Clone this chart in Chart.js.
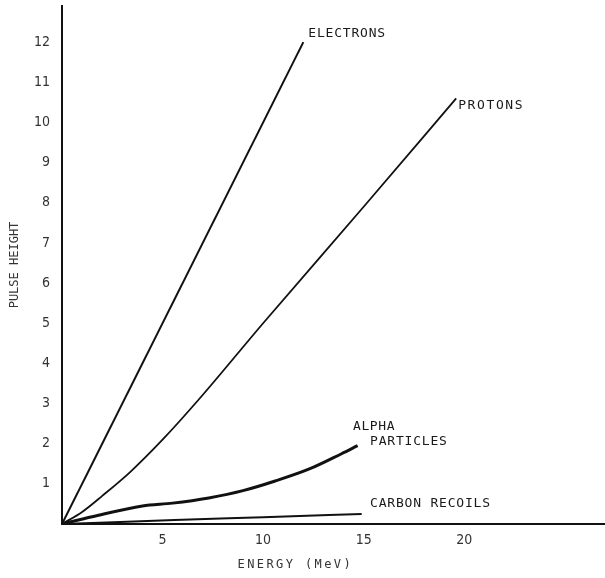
<!DOCTYPE html>
<html>
<head>
<meta charset="utf-8">
<title>Pulse height vs energy</title>
<script src="https://cdn.jsdelivr.net/npm/chart.js@4.4.0/dist/chart.umd.min.js"></script>
<style>
  html, body { margin: 0; padding: 0; background: #fff; }
  #wrap { width: 605px; height: 578px; }
</style>
</head>
<body>
<div id="wrap"><canvas id="pulseChart" width="605" height="578"></canvas></div>
<script>
// scintillator light output per particle type (energy in MeV, pulse height in arbitrary units)
const electronEnergy = [0, 12];
const electronPulse = [0, 12];
const protonEnergy = [0, 1, 2, 3.4, 5, 6.8, 10, 15, 19.6];
const protonPulse = [0, 0.3, 0.7, 1.3, 2.1, 3.1, 5.0, 7.9, 10.6];
const alphaEnergy = [0, 1.5, 4, 5.5, 7.3, 9, 10.6, 12.3, 13.9, 14.7];
const alphaPulse = [0, 0.18, 0.45, 0.52, 0.65, 0.83, 1.07, 1.37, 1.75, 1.95];
const carbonEnergy = [0, 5.6, 10, 14.9];
const carbonPulse = [0, 0.1, 0.17, 0.25];

const xTicks = [5, 10, 15, 20];
const yTicks = [1, 2, 3, 4, 5, 6, 7, 8, 9, 10, 11, 12];

// curve names, placed in data units next to the end of each curve
const curveLabels = [
  { text: 'ELECTRONS', x: 12.25, y: 12.2, spacing: 0.8 },
  { text: 'PROTONS', x: 19.7, y: 10.43, spacing: 1.6 },
  { text: 'ALPHA', x: 14.47, y: 2.42, spacing: 0.6 },
  { text: 'PARTICLES', x: 15.32, y: 2.04, spacing: 0.8 },
  { text: 'CARBON RECOILS', x: 15.32, y: 0.5, spacing: 0.8 }
];

const INK = '#111';
const LETTERING = '"DejaVu Sans Mono", monospace';

function pairs(xs, ys) {
  return xs.map((v, i) => ({ x: v, y: ys[i] }));
}

function curve(xs, ys, width) {
  return {
    data: pairs(xs, ys),
    showLine: true,
    borderColor: INK,
    borderWidth: width,
    pointRadius: 0,
    cubicInterpolationMode: 'monotone',
    fill: false
  };
}

const curveText = {
  id: 'curveText',
  afterDatasetsDraw(chart) {
    const { ctx, chartArea } = chart;
    const x = chart.scales.x, y = chart.scales.y;
    ctx.save();
    ctx.fillStyle = '#1a1a1a';
    ctx.font = '13px ' + LETTERING;
    ctx.textBaseline = 'middle';
    ctx.textAlign = 'left';
    curveLabels.forEach(l => {
      ctx.letterSpacing = l.spacing + 'px';
      ctx.fillText(l.text, x.getPixelForValue(l.x), y.getPixelForValue(l.y));
    });
    // x axis title sits left of the axis middle
    ctx.letterSpacing = '2.4px';
    ctx.font = '12px ' + LETTERING;
    ctx.fillStyle = '#333';
    ctx.textAlign = 'center';
    ctx.fillText('ENERGY (MeV)', x.getPixelForValue(11.6), chartArea.bottom + 41);
    ctx.restore();
  }
};

const tickFont = { family: '"Liberation Sans Narrow", "DejaVu Sans Condensed", sans-serif', size: 14 };

new Chart(document.getElementById('pulseChart'), {
  type: 'scatter',
  data: {
    datasets: [
      curve(electronEnergy, electronPulse, 2),
      curve(protonEnergy, protonPulse, 1.8),
      curve(alphaEnergy, alphaPulse, 3),
      curve(carbonEnergy, carbonPulse, 2)
    ]
  },
  plugins: [curveText],
  options: {
    responsive: false,
    animation: false,
    devicePixelRatio: 1,
    layout: { padding: { top: 6, left: 0, right: 0, bottom: 0 } },
    plugins: {
      legend: { display: false },
      tooltip: { enabled: false }
    },
    scales: {
      x: {
        type: 'linear',
        min: 0,
        max: 27,
        grid: { display: false, drawTicks: false },
        border: { display: true, color: INK, width: 2 },
        afterBuildTicks: s => { s.ticks = xTicks.map(v => ({ value: v })); },
        afterFit: s => { s.height = 54; s.paddingLeft = 0; s.paddingRight = 0; },
        ticks: { padding: 8, color: '#333', font: tickFont, maxRotation: 0, autoSkip: false }
      },
      y: {
        type: 'linear',
        min: 0,
        max: 12.9,
        grid: { display: false, drawTicks: false },
        border: { display: true, color: INK, width: 2 },
        afterBuildTicks: s => { s.ticks = yTicks.map(v => ({ value: v })); },
        afterFit: s => { s.width = 62; s.paddingTop = 0; s.paddingBottom = 0; },
        ticks: { padding: 12, color: '#333', font: tickFont, autoSkip: false },
        title: {
          display: true,
          text: 'PULSE HEIGHT',
          color: '#333',
          padding: { top: 8 },
          font: { family: LETTERING, size: 12 }
        }
      }
    }
  }
});
</script>
</body>
</html>
